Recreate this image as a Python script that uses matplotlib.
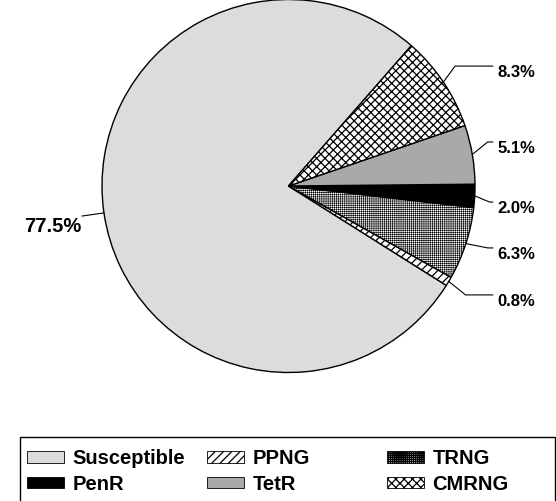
import matplotlib
matplotlib.use('Agg')
import matplotlib.pyplot as plt
from matplotlib.patches import Patch, Rectangle
import numpy as np

plt.rcParams['font.family'] = ['Liberation Sans', 'DejaVu Sans']
plt.rcParams['hatch.linewidth'] = 0.9

# slice order follows the pie, counter-clockwise from the top-right boundary
categories = ['Susceptible', 'PPNG', 'TRNG', 'PenR', 'TetR', 'CMRNG']
shares = [77.5, 0.8, 6.3, 2.0, 5.1, 8.3]
pct_labels = ['77.5%', '0.8%', '6.3%', '2.0%', '5.1%', '8.3%']
colors = ['#dcdcdc', 'white', 'white', 'black', '#a9a9a9', 'white']
hatches = [None, '////', '++++++++', None, None, 'xxxx']
hatch_lw = [0.9, 0.9, 0.4, 0.9, 0.9, 0.9]

# legend reads row by row: Susceptible PPNG TRNG / PenR TetR CMRNG
legend_cols = [['Susceptible', 'PenR'], ['PPNG', 'TetR'], ['TRNG', 'CMRNG']]

W, H = 556, 501
fig = plt.figure(figsize=(W / 100, H / 100), dpi=100)

cx, cy, R = 288.5, 186.0, 186.5   # pie centre / radius in pixels from top-left
ax = fig.add_axes([(cx - R) / W, (H - cy - R) / H, 2 * R / W, 2 * R / H])
wedges, _ = ax.pie(shares, colors=colors, startangle=48.8, counterclock=True,
                   wedgeprops=dict(edgecolor='black', linewidth=1.0))
for w, h, lw in zip(wedges, hatches, hatch_lw):
    if h:
        w.set_hatch(h)
        w.set_hatch_linewidth(lw)
ax.set_xlim(-1, 1)
ax.set_ylim(-1, 1)
ax.set_aspect('equal')
ax.axis('off')

# leader-line elbows (data units) for each label
elbows = {
    'Susceptible': (-1.107, -0.161),
    'PPNG': (0.949, -0.584),
    'TRNG': (1.068, -0.332),
    'PenR': (1.078, -0.086),
    'TetR': (1.068, 0.236),
    'CMRNG': (0.893, 0.643),
}
texts = dict(zip(categories, pct_labels))

for w, cat in zip(wedges, categories):
    ang = np.deg2rad((w.theta1 + w.theta2) / 2)
    ex, ey = np.cos(ang), np.sin(ang)
    bx, by = elbows[cat]
    if bx > 0:
        tx = 1.095
        ax.plot([ex, bx, tx], [ey, by, by], color='black', lw=0.8, clip_on=False)
        ax.text(tx + 0.025, by + 0.005, texts[cat], ha='left', va='top',
                fontsize=12, fontweight='bold')
    else:
        ax.plot([ex, bx], [ey, by], color='black', lw=0.8, clip_on=False)
        ax.text(bx - 0.005, by - 0.005, texts[cat], ha='right', va='top',
                fontsize=14.5, fontweight='bold')

# legend: frame plus three single-column blocks
fig.add_artist(Rectangle((20 / W, -0.01), (555 - 20) / W, (H - 437) / H + 0.01,
                         transform=fig.transFigure, fill=False,
                         edgecolor='black', linewidth=1.0))
style = dict(zip(categories, zip(colors, hatches, hatch_lw)))
col_x = [27, 207, 387]
for x, names in zip(col_x, legend_cols):
    handles = []
    for n in names:
        p = Patch(facecolor=style[n][0], hatch=style[n][1], edgecolor='black',
                  linewidth=0.6, label=n)
        p.set_hatch_linewidth(style[n][2])
        handles.append(p)
    fig.legend(handles=handles, loc='upper left',
               bbox_to_anchor=(x / W, (H - 449) / H), frameon=False,
               borderpad=0, borderaxespad=0, handlelength=1.85,
               handleheight=0.5, handletextpad=0.4, labelspacing=0.33,
               prop=dict(size=14.5, weight='bold'))

fig.savefig('out.png', dpi=100)
